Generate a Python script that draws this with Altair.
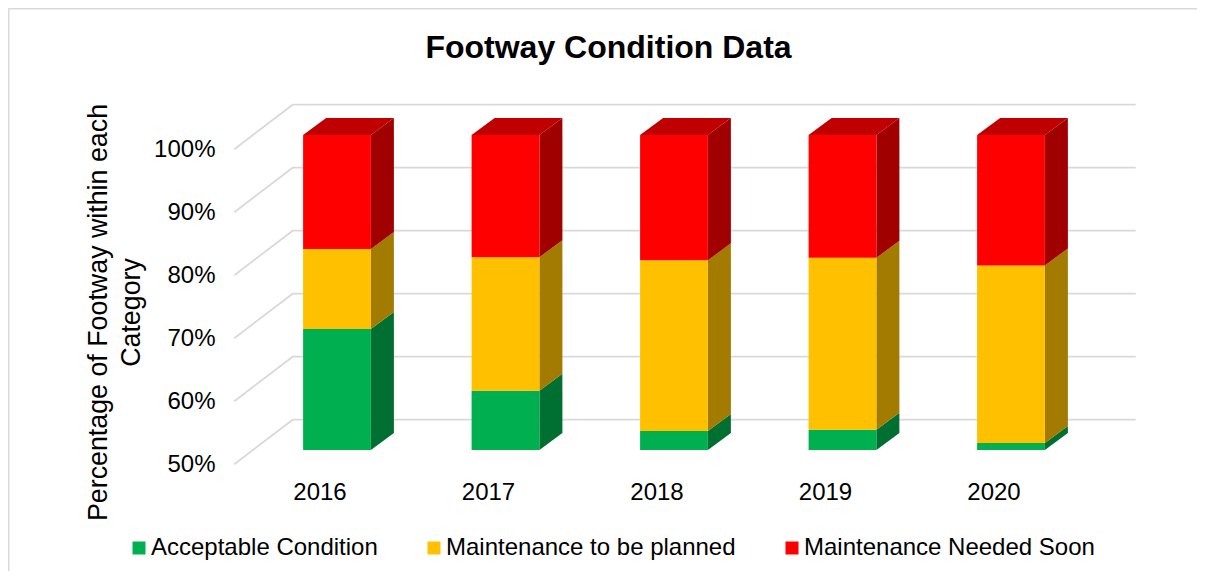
import altair as alt
import pandas as pd

years = [2016, 2017, 2018, 2019, 2020]
series = ["Acceptable Condition", "Maintenance to be planned", "Maintenance Needed Soon"]
acceptable = [69.2, 59.4, 53.0, 53.2, 51.1]
planned = [12.7, 21.2, 27.1, 27.3, 28.2]
soon = [18.1, 19.4, 19.9, 19.5, 20.7]
front_colors = ["#00B050", "#FFC000", "#FF0000"]
side_colors = ["#006F32", "#A37B00", "#A00000"]
top_color = "#C00000"
grid_levels = [50, 60, 70, 80, 90, 100]

BASE = 50.0
PX_X = 168.5      # pixels per year
PX_Y = 6.3        # pixels per percent
PLOT_W, PLOT_H = 1189, 390
x_domain = [2016 - 329 / PX_X, 2016 + (PLOT_W - 329) / PX_X]
y_domain = [BASE, BASE + PLOT_H / PX_Y]

half_w = 33.9 / PX_X
depth_x = 23.0 / PX_X
depth_y = 17.0 / PX_Y
wall_y = 30.3 / PX_Y
floor_y = -14.2 / PX_Y
wall_left = 2016 + (292.7 - 337) / PX_X
wall_right = 2016 + (1135.7 - 337) / PX_X
floor_left = 2016 + (234.3 - 337) / PX_X

front, sides, tops, grid = [], [], [], []
for i, yr in enumerate(years):
    low = BASE
    for s, vals, side in zip(series, [[a - BASE for a in acceptable], planned, soon], side_colors):
        high = low + vals[i]
        front.append({"x": yr - half_w, "x2": yr + half_w, "y": low, "y2": high, "series": s})
        for j in (0, 1):
            sides.append({"face": f"{yr}{s}", "x": yr + half_w + j * depth_x,
                          "y": low + j * depth_y, "y2": high + j * depth_y, "c": side})
        low = high
    for j in (0, 1):
        tops.append({"face": str(yr), "x": yr - half_w + j * depth_x, "x2": yr + half_w + j * depth_x,
                     "y": low + j * depth_y, "c": top_color})
for lv in grid_levels:
    grid.append({"lv": lv, "o": 0, "x": floor_left, "y": lv + floor_y})
    grid.append({"lv": lv, "o": 1, "x": wall_left, "y": lv + wall_y})
    grid.append({"lv": lv, "o": 2, "x": wall_right, "y": lv + wall_y})

xs = alt.Scale(domain=x_domain, nice=False, zero=False)
ys = alt.Scale(domain=y_domain, nice=False, zero=False)
FONT = "Liberation Sans"

x_axis = alt.Axis(values=years, format="d", title=None, ticks=False, domain=False, grid=False,
                  labelFont=FONT, labelFontSize=24, labelColor="#000000", labelPadding=30,
                  labelOffset=-17.5, labelAngle=0)
y_axis = alt.Axis(values=grid_levels, labelExpr="datum.value + '%'", ticks=False, domain=False, grid=False,
                  labelFont=FONT, labelFontSize=24, labelColor="#000000", labelPadding=0,
                  labelOffset=14, offset=-207,
                  title=["Percentage of Footway within each", "Category"],
                  titleFont=FONT, titleFontSize=26.8, titleFontWeight="normal", titleColor="#000000",
                  titleLineHeight=33, titleX=-103, titleY=252, titleAnchor="middle")

grid_layer = alt.Chart(pd.DataFrame(grid)).mark_line(color="#D9D9D9", strokeWidth=1.75).encode(
    x=alt.X("x:Q", scale=xs, axis=x_axis),
    y=alt.Y("y:Q", scale=ys, axis=y_axis),
    detail="lv:N", order="o:Q")

side_layer = alt.Chart(pd.DataFrame(sides)).mark_area(orient="vertical", interpolate="linear").encode(
    x=alt.X("x:Q", scale=xs, axis=x_axis),
    y=alt.Y("y:Q", scale=ys, axis=y_axis, stack=None),
    y2="y2:Q", detail="face:N", fill=alt.Fill("c:N", scale=None))

top_layer = alt.Chart(pd.DataFrame(tops)).mark_area(orient="horizontal", interpolate="linear").encode(
    y=alt.Y("y:Q", scale=ys, axis=y_axis, stack=None),
    x=alt.X("x:Q", scale=xs, axis=x_axis),
    x2="x2:Q", detail="face:N", fill=alt.Fill("c:N", scale=None))

front_layer = alt.Chart(pd.DataFrame(front)).mark_rect().encode(
    x=alt.X("x:Q", scale=xs, axis=x_axis),
    x2="x2:Q",
    y=alt.Y("y:Q", scale=ys, axis=y_axis),
    y2="y2:Q",
    color=alt.Color("series:N", scale=alt.Scale(domain=series, range=front_colors), sort=series,
                    legend=alt.Legend(orient="none", direction="horizontal", title=None, legendX=117, legendY=476,
                                      symbolType="square", symbolSize=169, symbolStrokeWidth=0, symbolOffset=2,
                                      labelFont=FONT, labelFontSize=24, labelColor="#000000",
                                      labelOffset=0, columnPadding=42, padding=0, labelLimit=400)))

frame_left = alt.Chart(pd.DataFrame({"a": [0]})).mark_rule(color="#D9D9D9", strokeWidth=1.5).encode(
    x=alt.value(0.75), y=alt.value(-52), y2=alt.value(511))
frame_top = alt.Chart(pd.DataFrame({"a": [0]})).mark_rule(color="#D9D9D9", strokeWidth=1.5).encode(
    y=alt.value(-51.25), x=alt.value(0), x2=alt.value(PLOT_W))

chart = alt.layer(frame_left, frame_top, grid_layer, side_layer, top_layer, front_layer).properties(
    width=PLOT_W, height=PLOT_H,
    padding={"left": 0, "right": 0, "top": 52, "bottom": 121},
    autosize=alt.AutoSizeParams(type="none"),
    title=alt.TitleParams("Footway Condition Data", font=FONT, fontSize=32, fontWeight="bold", color="#000000",
                          anchor="middle", frame="group", dx=6, offset=-58),
    background="white",
).configure_view(stroke=None)

chart.save("out.html", embed_options={"renderer": "svg", "actions": False})
